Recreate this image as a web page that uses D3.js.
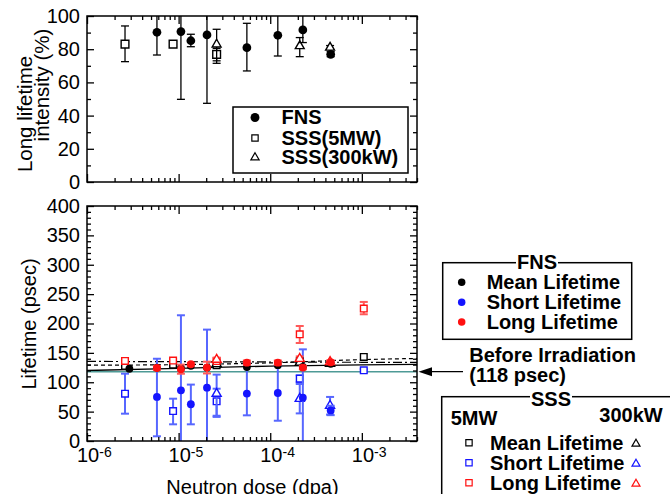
<!DOCTYPE html>
<html><head><meta charset="utf-8">
<script src="https://cdn.jsdelivr.net/npm/d3@7"></script>
<style>
body{margin:0;background:#fff}
svg{display:block}
text{font-family:"Liberation Sans",Arial,Helvetica,sans-serif;fill:#000}
</style>
</head><body><svg id="c" width="670" height="494"></svg>
<script>
// ---------------- data ----------------
// Top panel: long lifetime intensity (%)
const fnsDose     = [5.8e-6, 1.06e-5, 1.36e-5, 2.04e-5, 5.56e-5, 1.21e-4, 2.27e-4, 4.57e-4];
const fnsInt      = [90.2, 90.6, 85.1, 88.6, 80.9, 88.4, 91.6, 76.9];
const fnsIntLo    = [76.5, 49.8, 81.5, 47.4, 66.9, 75.9, 84, 75.5];
const fnsIntHi    = [106, 110, 89, 112, 95.6, 104, 104, 78.5];
const sss5IntDose = [2.6e-6, 8.7e-6, 2.6e-5];
const sss5Int     = [83.1, 83.1, 76.9];
const sss5IntLo   = [72.5, 81.6, 71.5];
const sss5IntHi   = [94, 84.6, 80.5];
const sss300Dose  = [2.6e-5, 2.1e-4, 4.5e-4];
const sss300Int   = [82.9, 81.9, 81];
const sss300IntLo = [73, 75.5, 79.8];
const sss300IntHi = [92, 87, 82.2];

// Bottom panel: lifetimes (psec)
const fnsMeanDose = [2.9e-6, 5.8e-6, 1.06e-5, 1.36e-5, 2.04e-5, 5.56e-5, 1.21e-4, 2.27e-4, 4.57e-4];
const fnsMean     = [123, 125, 124, 128, 125, 126, 129, 126, 131.5];
const fnsShort    = [75, 86.3, 62.5, 90.7, 80.7, 81.7, 73.8, 52];
const fnsShortLo  = [8, -10, 28.4, -10, 43.7, 34.5, -10, 44];
const fnsShortHi  = [140, 214, 96, 189.6, 132, 128, 156, 60];
const fnsLong     = [124.3, 122, 130.6, 125, 133.4, 133.4, 125, 134];
const fnsLongLo   = [121, 114.5, 128, 115, 130, 130, 122, 131];
const fnsLongHi   = [127.5, 130, 133, 135, 137, 137, 128, 137];

const sss5Dose    = [2.6e-6, 8.7e-6, 2.6e-5, 2.1e-4, 1.05e-3];
const sss5Mean    = [128, 130, 129, 135.6, 143];
const sss5Short   = [80.6, 51, 67.5, 106, 120.3];
const sss5ShortLo = [46.5, 28.4, 43, 100, 118];
const sss5ShortHi = [114.6, 72, 113, 112, 122.5];
const sss5Long    = [136.3, 137, 136, 181.6, 225.4];
const sss5LongLo  = [133, 134, 133, 166.8, 215.7];
const sss5LongHi  = [139.5, 140, 139, 195.7, 236.7];

const sss300Mean    = [131, 133.5, 131.5];
const sss300Short   = [80.6, 72, 60];
const sss300ShortLo = [41, 47, 45];
const sss300ShortHi = [89, 97, 75];
const sss300Long    = [138.5, 140, 134.5];
const sss300LongLo  = [135, 136, 132];
const sss300LongHi  = [142, 144, 137];

// fitted trend curves
const fitDose    = [1e-6, 1e-5, 1e-4, 1e-3, 4e-3];
const fitSolid   = [120, 123.5, 127.5, 129.5, 130.5];
const fitDashed  = [129, 130, 133, 138.5, 140.5];
const fitDashDot = [135.5, 135, 134.5, 134, 134];
const beforeIrradiation = 118;

const topTicks = [0, 20, 40, 60, 80, 100];
const botTicks = [0, 50, 100, 150, 200, 250, 300, 350, 400];
const decades  = [-6, -5, -4, -3];

// ---------------- layout ----------------
const svg = d3.select("#c");
const L = 87, R = 417;
const x = d3.scaleLog().domain([1e-6, 4e-3]).range([L, R]);
const yT = d3.scaleLinear().domain([0, 100]).range([182, 16]);
const yB = d3.scaleLinear().domain([0, 400]).range([441, 206]);

const BLUE = "#1414ff", BLUE_E = "#5767ff", RED = "#ff1010", RED_E = "#ff5a5a";

const minorX = x.ticks().filter(v => Math.abs(Math.log10(v) - Math.round(Math.log10(v))) > 1e-6);
const majorX = decades.map(d => Math.pow(10, d));

function axes(yS, majorY, minorY, top, bottom) {
  const g = svg.append("g");
  const add = (axis, tr) => {
    const a = g.append("g").attr("transform", tr).call(axis);
    a.select(".domain").remove();
    a.selectAll(".tick line").attr("stroke", "#000").attr("stroke-width", 1.3);
    return a;
  };
  add(d3.axisBottom(x).tickValues(majorX).tickSize(-8).tickFormat(""), `translate(0,${bottom})`);
  add(d3.axisBottom(x).tickValues(minorX).tickSize(-4).tickFormat(""), `translate(0,${bottom})`);
  add(d3.axisTop(x).tickValues(majorX).tickSize(-8).tickFormat(""), `translate(0,${top})`);
  add(d3.axisTop(x).tickValues(minorX).tickSize(-4).tickFormat(""), `translate(0,${top})`);
  const yl = add(d3.axisLeft(yS).tickValues(majorY).tickSize(-7).tickPadding(7), `translate(${L},0)`);
  yl.selectAll("text").attr("font-size", 20).attr("font-family", '"Liberation Sans",Arial,sans-serif').attr("fill", "#000");
  add(d3.axisLeft(yS).tickValues(minorY).tickSize(-4).tickFormat(""), `translate(${L},0)`);
  add(d3.axisRight(yS).tickValues(majorY).tickSize(-7).tickFormat(""), `translate(${R},0)`);
  add(d3.axisRight(yS).tickValues(minorY).tickSize(-4).tickFormat(""), `translate(${R},0)`);
  svg.append("rect").attr("x", L).attr("y", top).attr("width", R - L).attr("height", bottom - top)
    .attr("fill", "none").attr("stroke", "#000").attr("stroke-width", 1.5);
}

function clip(id, top, bottom) {
  svg.append("clipPath").attr("id", id).append("rect")
    .attr("x", L).attr("y", top).attr("width", R - L).attr("height", bottom - top);
  return svg.append("g").attr("clip-path", `url(#${id})`);
}

function series(g, yS, dose, val, lo, hi, shape, color, ecolor, size, ew) {
  if (lo) {
    dose.forEach((d, i) => {
      const cx = x(d);
      const eg = g.append("g").attr("stroke", ecolor).attr("stroke-width", ew);
      eg.append("line").attr("x1", cx).attr("x2", cx).attr("y1", yS(lo[i])).attr("y2", yS(hi[i]));
      [lo[i], hi[i]].forEach(v => eg.append("line").attr("x1", cx - 4).attr("x2", cx + 4).attr("y1", yS(v)).attr("y2", yS(v)));
    });
  }
  const sym = d3.symbol().type(shape === "circle" ? d3.symbolCircle : shape === "square" ? d3.symbolSquare : d3.symbolTriangle).size(size);
  dose.forEach((d, i) => {
    g.append("path").attr("d", sym()).attr("transform", `translate(${x(d)},${yS(val[i])})`)
      .attr("fill", shape === "circle" ? color : "#fff")
      .attr("stroke", color).attr("stroke-width", shape === "circle" ? 0 : 1.4);
  });
}

// ---------- top panel ----------
const gT = clip("clipT", 16, 182);
series(gT, yT, sss5IntDose, sss5Int, sss5IntLo, sss5IntHi, "square", "#000", "#000", 60, 1.3);
series(gT, yT, sss300Dose, sss300Int, sss300IntLo, sss300IntHi, "triangle", "#000", "#000", 34, 1.3);
series(gT, yT, fnsDose, fnsInt, fnsIntLo, fnsIntHi, "circle", "#000", "#000", 60, 1.3);
axes(yT, topTicks, d3.range(10, 100, 20), 16, 182);

// top legend
const lg = svg.append("g");
lg.append("rect").attr("x", 233).attr("y", 107).attr("width", 175).attr("height", 66)
  .attr("fill", "#fff").attr("stroke", "#000").attr("stroke-width", 1.5);
const topLeg = [["FNS", "circle", 117.5], ["SSS(5MW)", "square", 138], ["SSS(300kW)", "triangle", 157.5]];
topLeg.forEach(([t, s, yy]) => {
  const sym = d3.symbol().type(s === "circle" ? d3.symbolCircle : s === "square" ? d3.symbolSquare : d3.symbolTriangle)
    .size(s === "circle" ? 62 : s === "square" ? 40 : 30);
  lg.append("path").attr("d", sym()).attr("transform", `translate(255,${yy})`)
    .attr("fill", s === "circle" ? "#000" : "#fff").attr("stroke", "#000").attr("stroke-width", s === "circle" ? 0 : 1.2);
  lg.append("text").attr("x", 281.5).attr("y", yy + 6.5).attr("font-size", 20).attr("font-weight", "bold").text(t);
});

// top y title
svg.append("text").attr("transform", "translate(32,114) rotate(-90)").attr("text-anchor", "middle")
  .attr("font-size", 20.5).text("Long lifetime");
svg.append("text").attr("transform", "translate(49,85) rotate(-90)").attr("text-anchor", "middle")
  .attr("font-size", 20.5).text("intensity (%)");

// ---------- bottom panel ----------
const gB = clip("clipB", 206, 441);
const line = d3.line().x(d => x(d[0])).y(d => yB(d[1])).curve(d3.curveMonotoneX);
gB.append("path").attr("d", line(fitDose.map((d, i) => [d, fitDashDot[i]])))
  .attr("fill", "none").attr("stroke", "#000").attr("stroke-width", 1.2).attr("stroke-dasharray", "9,3,2,3");
gB.append("path").attr("d", line(fitDose.map((d, i) => [d, fitDashed[i]])))
  .attr("fill", "none").attr("stroke", "#000").attr("stroke-width", 1.2).attr("stroke-dasharray", "4,3");
gB.append("path").attr("d", line(fitDose.map((d, i) => [d, fitSolid[i]])))
  .attr("fill", "none").attr("stroke", "#000").attr("stroke-width", 1.3);
gB.append("line").attr("x1", L).attr("x2", R).attr("y1", yB(beforeIrradiation)).attr("y2", yB(beforeIrradiation))
  .attr("stroke", "#4e9a96").attr("stroke-width", 1.6);

// short (blue)
series(gB, yB, sss5Dose, sss5Short, sss5ShortLo, sss5ShortHi, "square", BLUE, BLUE_E, 44, 2);
series(gB, yB, sss300Dose, sss300Short, sss300ShortLo, sss300ShortHi, "triangle", BLUE, BLUE_E, 36, 2);
series(gB, yB, fnsDose, fnsShort, fnsShortLo, fnsShortHi, "circle", BLUE, BLUE_E, 48, 2);
// mean (black)
series(gB, yB, sss5Dose, sss5Mean, null, null, "square", "#000", "#000", 44, 1.3);
series(gB, yB, sss300Dose, sss300Mean, null, null, "triangle", "#000", "#000", 36, 1.3);
series(gB, yB, fnsMeanDose, fnsMean, null, null, "circle", "#000", "#000", 48, 1.3);
// long (red)
series(gB, yB, sss5Dose, sss5Long, sss5LongLo, sss5LongHi, "square", RED, RED_E, 44, 2);
series(gB, yB, sss300Dose, sss300Long, sss300LongLo, sss300LongHi, "triangle", RED, RED_E, 36, 2);
series(gB, yB, fnsDose, fnsLong, fnsLongLo, fnsLongHi, "circle", RED, RED_E, 48, 2);

axes(yB, botTicks, d3.range(10, 400, 10).filter(v => v % 50 !== 0), 206, 441);

// x tick labels 10^n
decades.forEach(d => {
  const t = svg.append("text").attr("x", x(Math.pow(10, d)) - 10).attr("y", 461.5).attr("font-size", 20);
  t.append("tspan").text("10");
  t.append("tspan").attr("font-size", 14).attr("dy", -5).text("-" + Math.abs(d));
});
svg.append("text").attr("x", 252.5).attr("y", 494).attr("text-anchor", "middle").attr("font-size", 20)
  .text("Neutron dose (dpa)");
svg.append("text").attr("transform", "translate(36,324) rotate(-90)").attr("text-anchor", "middle")
  .attr("font-size", 20).text("Lifetime (psec)");

// ---------- right side legends ----------
const bold = sel => sel.attr("font-size", 20).attr("font-weight", "bold");
// FNS legend
svg.append("rect").attr("x", 442.7).attr("y", 262.7).attr("width", 189).attr("height", 76.6)
  .attr("fill", "#fff").attr("stroke", "#000").attr("stroke-width", 1.5);
svg.append("rect").attr("x", 516).attr("y", 258).attr("width", 42).attr("height", 8).attr("fill", "#fff");
bold(svg.append("text").attr("x", 537).attr("y", 268.5).attr("text-anchor", "middle")).text("FNS");
const fnsLeg = [["Mean Lifetime", "#000", 282.3], ["Short Lifetime", BLUE, 302.3], ["Long Lifetime", RED, 322]];
fnsLeg.forEach(([t, c, yy]) => {
  svg.append("path").attr("d", d3.symbol().type(d3.symbolCircle).size(44)()).attr("transform", `translate(461.7,${yy})`).attr("fill", c);
  bold(svg.append("text").attr("x", 486.7).attr("y", yy + 7)).text(t);
});

// Before irradiation arrow + text
svg.append("line").attr("x1", 463).attr("x2", 430).attr("y1", yB(beforeIrradiation)).attr("y2", yB(beforeIrradiation))
  .attr("stroke", "#000").attr("stroke-width", 1.3);
const ay = yB(beforeIrradiation);
svg.append("path").attr("d", `M418.5,${ay} L432,${ay - 4.5} L432,${ay + 4.5} Z`).attr("fill", "#000");
bold(svg.append("text").attr("x", 469.3).attr("y", 361.7)).text("Before Irradiation");
bold(svg.append("text").attr("x", 469.3).attr("y", 381.8)).text("(118 psec)");

// SSS legend
svg.append("rect").attr("x", 441.7).attr("y", 396.7).attr("width", 260).attr("height", 120)
  .attr("fill", "#fff").attr("stroke", "#000").attr("stroke-width", 1.5);
svg.append("rect").attr("x", 530).attr("y", 392).attr("width", 42).attr("height", 8).attr("fill", "#fff");
bold(svg.append("text").attr("x", 551).attr("y", 406).attr("text-anchor", "middle")).text("SSS");
bold(svg.append("text").attr("x", 450.7).attr("y", 425)).text("5MW");
bold(svg.append("text").attr("x", 662.7).attr("y", 421.7).attr("text-anchor", "end")).text("300kW");
const sssLeg = [["Mean Lifetime", "#000", 442.7], ["Short Lifetime", BLUE, 462.7], ["Long Lifetime", RED, 482.7]];
sssLeg.forEach(([t, c, yy]) => {
  svg.append("path").attr("d", d3.symbol().type(d3.symbolSquare).size(40)()).attr("transform", `translate(469,${yy})`)
    .attr("fill", "#fff").attr("stroke", c).attr("stroke-width", 1.2);
  svg.append("path").attr("d", d3.symbol().type(d3.symbolTriangle).size(28)()).attr("transform", `translate(636,${yy + 1.2})`)
    .attr("fill", "#fff").attr("stroke", c).attr("stroke-width", 1.2);
  bold(svg.append("text").attr("x", 490).attr("y", yy + 7.3)).text(t);
});
</script>
</body></html>
